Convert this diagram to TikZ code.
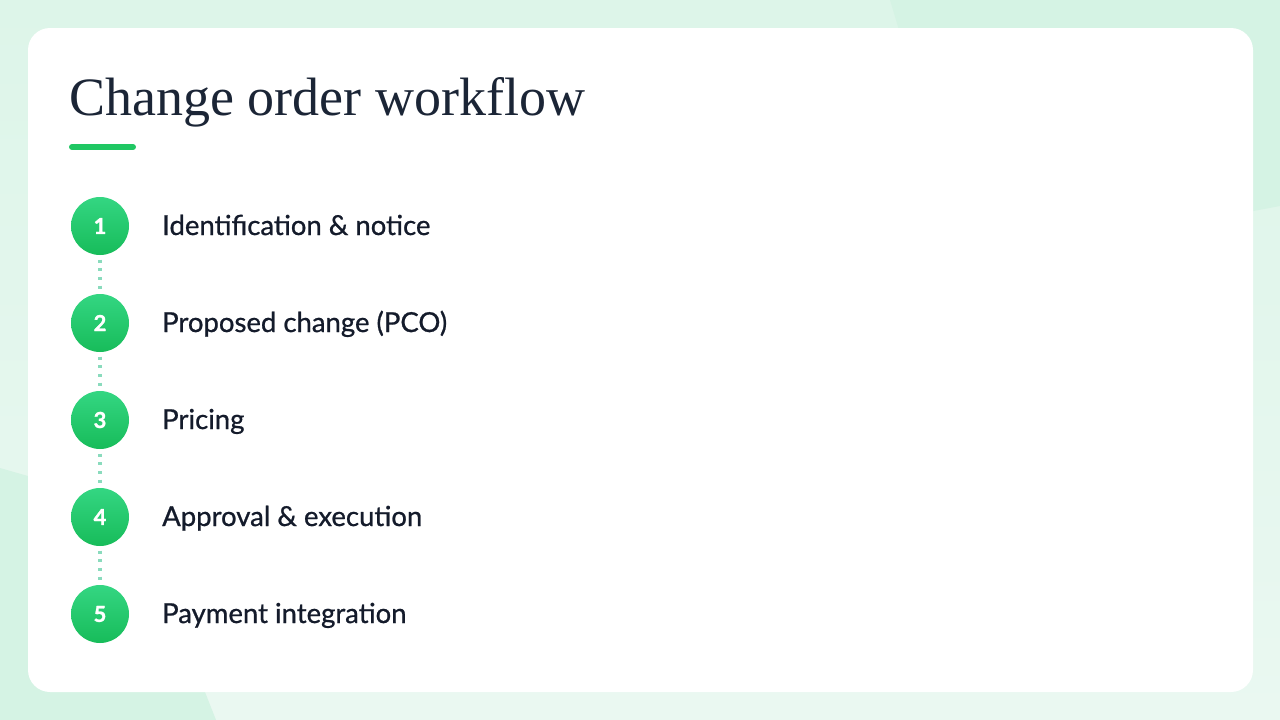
\documentclass[tikz,border=0pt]{standalone}
\usepackage{fontspec}
\setmainfont{Lato}
\newfontfamily\titlefont{Liberation Serif}
\newfontfamily\bodyfont[FakeBold=0.8]{Lato}
\newfontfamily\numfont[BoldFeatures={FakeBold=1.2}]{Lato}
\usetikzlibrary{positioning}
\definecolor{bgtop}{HTML}{DDF5E9}
\definecolor{bgbot}{HTML}{EAF8F1}
\definecolor{blob}{HTML}{D5F3E4}
\definecolor{titlecol}{HTML}{1B2536}
\definecolor{textcol}{HTML}{141B2B}
\definecolor{accent}{HTML}{1FC763}
\definecolor{circtop}{HTML}{34D682}
\definecolor{circbot}{HTML}{17BC5A}
\definecolor{dotcol}{HTML}{8ADBBD}
\tikzset{
  stepcircle/.style={circle, minimum size=58pt, inner sep=0pt, top color=circtop, bottom color=circbot, draw=none,
    text=white, font=\numfont\bfseries\fontsize{22}{26}\selectfont},
  steplabel/.style={anchor=base west, inner sep=0pt, text=textcol, font=\bodyfont\fontsize{27.5}{32}\selectfont},
  stepconn/.style={draw=dotcol, line width=3.2pt, dash pattern=on 3pt off 5.67pt, shorten <=4.5pt, shorten >=4.5pt},
}
\begin{document}
\begin{tikzpicture}[x=1pt,y=-1pt]
\useasboundingbox (0,0) rectangle (1280,720);
% background
\shade[top color=bgtop, bottom color=bgbot] (0,0) rectangle (1280,720);
\fill[blob] (890,0) -- (1280,0) -- (1280,206) -- (1100,240) -- (920,100) -- cycle;
\fill[blob] (0,468) -- (28,476) -- (205,692) -- (216,720) -- (0,720) -- cycle;
% card
\fill[white, rounded corners=22pt] (28,28) rectangle (1253,692);
% title
\node[anchor=base west, inner sep=0pt, text=titlecol, font=\titlefont\fontsize{54}{60}\selectfont] (title) at (69,115) {Change order workflow};
\draw[accent, line width=6pt, line cap=round] (72,147) coordinate (ul1) -- (133,147) coordinate (ul2);
% steps
\node[stepcircle] (c1) at (100,226) {1};
\node[stepcircle] (c2) at (100,323) {2};
\node[stepcircle] (c3) at (100,420) {3};
\node[stepcircle] (c4) at (100,517) {4};
\node[stepcircle] (c5) at (100,614) {5};
\draw[stepconn] (c1.south) -- (c2.north);
\draw[stepconn] (c2.south) -- (c3.north);
\draw[stepconn] (c3.south) -- (c4.north);
\draw[stepconn] (c4.south) -- (c5.north);
\node[steplabel] (l1) at (162,235) {Identification \& notice};
\node[steplabel] (l2) at (162,332) {Proposed change (PCO)};
\node[steplabel] (l3) at (162,429) {Pricing};
\node[steplabel] (l4) at (162,526) {Approval \& execution};
\node[steplabel] (l5) at (162,623) {Payment integration};
\end{tikzpicture}
\end{document}
